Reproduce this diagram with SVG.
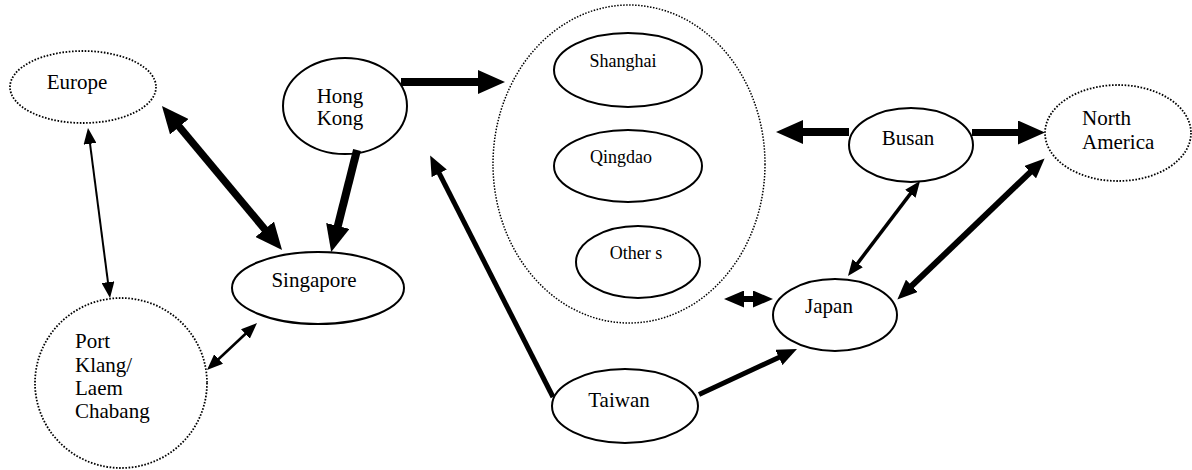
<svg xmlns="http://www.w3.org/2000/svg" width="1192" height="470" viewBox="0 0 1192 470">
  <style>
    .port { fill: #fff; stroke: #000; stroke-width: 2; }
    .region { fill: #fff; stroke: #000; stroke-width: 1.8; stroke-dasharray: 1.6 1.6; }
    .cluster { fill: none; stroke: #000; stroke-width: 1.5; stroke-dasharray: 1.5 1.5; }
    .lbl { font-family: "Liberation Serif", "DejaVu Serif", serif; font-size: 21px; fill: #000; }
    .mid { text-anchor: middle; }
    .small { font-size: 18px; }
    .link { fill: none; stroke: #000; stroke-linecap: butt; }
  </style>
  <defs>
    <marker id="hl" markerUnits="userSpaceOnUse" viewBox="0 0 27 24" markerWidth="27" markerHeight="24" refX="13.5" refY="12" orient="auto-start-reverse">
      <path d="M0,0 L27,12 L0,24 z" fill="#000"/>
    </marker>
    <marker id="hm" markerUnits="userSpaceOnUse" viewBox="0 0 20 17" markerWidth="20" markerHeight="17" refX="10" refY="8.5" orient="auto-start-reverse">
      <path d="M0,0 L20,8.5 L0,17 z" fill="#000"/>
    </marker>
    <marker id="hs" markerUnits="userSpaceOnUse" viewBox="0 0 16 13" markerWidth="16" markerHeight="13" refX="8" refY="6.5" orient="auto-start-reverse">
      <path d="M0,0 L16,6.5 L0,13 z" fill="#000"/>
    </marker>
  </defs>

  <!-- China cluster (dotted container) -->
  <g id="china">
    <ellipse class="cluster" cx="629" cy="164" rx="136" ry="159"/>
  </g>

  <g id="europe">
    <ellipse class="region" cx="83" cy="87" rx="73" ry="36"/>
    <text class="lbl mid" x="77" y="89">Europe</text>
  </g>

  <g id="hong-kong">
    <ellipse class="port" cx="345" cy="106" rx="62" ry="48"/>
    <text class="lbl mid" x="340" y="103">Hong</text>
    <text class="lbl mid" x="340" y="125">Kong</text>
  </g>

  <g id="singapore">
    <ellipse class="port" cx="318" cy="288" rx="86" ry="36"/>
    <text class="lbl mid" x="314" y="287">Singapore</text>
  </g>

  <g id="port-klang">
    <ellipse class="region" cx="121" cy="383" rx="86" ry="85"/>
    <text class="lbl" x="75" y="348">Port</text>
    <text class="lbl" x="75" y="372">Klang/</text>
    <text class="lbl" x="75" y="395">Laem</text>
    <text class="lbl" x="75" y="418">Chabang</text>
  </g>

  <g id="shanghai">
    <ellipse class="port" cx="628" cy="70" rx="74" ry="37"/>
    <text class="lbl small mid" x="623" y="67">Shanghai</text>
  </g>

  <g id="qingdao">
    <ellipse class="port" cx="628" cy="166" rx="74" ry="36"/>
    <text class="lbl small mid" x="621" y="163">Qingdao</text>
  </g>

  <g id="others">
    <ellipse class="port" cx="638" cy="262" rx="62" ry="36"/>
    <text class="lbl small mid" x="636" y="259">Other s</text>
  </g>

  <g id="busan">
    <ellipse class="port" cx="911" cy="145" rx="62" ry="37"/>
    <text class="lbl mid" x="908" y="145">Busan</text>
  </g>

  <g id="north-america">
    <ellipse class="region" cx="1118" cy="133" rx="73" ry="48"/>
    <text class="lbl" x="1082" y="125">North</text>
    <text class="lbl" x="1082" y="149">America</text>
  </g>

  <g id="japan">
    <ellipse class="port" cx="835" cy="315" rx="62" ry="36"/>
    <text class="lbl mid" x="829" y="313">Japan</text>
  </g>

  <g id="taiwan">
    <ellipse class="port" cx="625" cy="406" rx="73" ry="37"/>
    <text class="lbl mid" x="619" y="407">Taiwan</text>
  </g>

  <!-- Shipping links -->
  <g id="connectors">
    <!-- Europe <-> Port Klang / Laem Chabang -->
    <line class="link" x1="89" y1="135.9" x2="109" y2="290.1" stroke-width="2" marker-start="url(#hs)" marker-end="url(#hs)"/>
    <!-- Europe <-> Singapore -->
    <line class="link" x1="170.6" y1="116.4" x2="273.4" y2="239.6" stroke-width="7.5" marker-start="url(#hl)" marker-end="url(#hl)"/>
    <!-- Hong Kong -> Singapore -->
    <line class="link" x1="357" y1="150" x2="334.5" y2="239" stroke-width="8" marker-end="url(#hl)"/>
    <!-- Hong Kong -> China ports -->
    <line class="link" x1="401" y1="82" x2="491.5" y2="82" stroke-width="8" marker-end="url(#hl)"/>
    <!-- Port Klang <-> Singapore -->
    <line class="link" x1="212.8" y1="364.5" x2="251.2" y2="328.5" stroke-width="2.5" marker-start="url(#hs)" marker-end="url(#hs)"/>
    <!-- Taiwan -> Hong Kong -->
    <line class="link" x1="553" y1="397" x2="434.7" y2="164.4" stroke-width="5" marker-end="url(#hm)"/>
    <!-- Busan -> China ports -->
    <line class="link" x1="849" y1="132" x2="789.5" y2="132" stroke-width="8" marker-end="url(#hl)"/>
    <!-- Busan -> North America -->
    <line class="link" x1="972" y1="132.5" x2="1031.5" y2="132.5" stroke-width="7" marker-end="url(#hl)"/>
    <!-- Busan <-> Japan -->
    <line class="link" x1="915.2" y1="187.4" x2="852.8" y2="269.6" stroke-width="3.5" marker-start="url(#hs)" marker-end="url(#hs)"/>
    <!-- North America <-> Japan -->
    <line class="link" x1="1037.4" y1="165.3" x2="904.6" y2="292.7" stroke-width="6" marker-start="url(#hm)" marker-end="url(#hm)"/>
    <!-- China ports <-> Japan -->
    <line class="link" x1="734" y1="299" x2="763" y2="299" stroke-width="6" marker-start="url(#hm)" marker-end="url(#hm)"/>
    <!-- Taiwan -> Japan -->
    <line class="link" x1="699" y1="394.5" x2="787.9" y2="353.2" stroke-width="5" marker-end="url(#hm)"/>
  </g>
</svg>
